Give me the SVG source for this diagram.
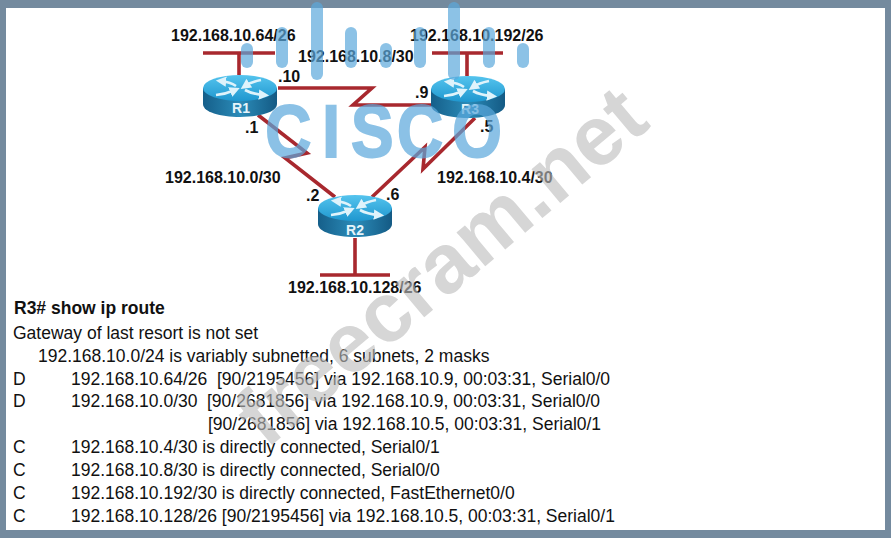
<svg xmlns="http://www.w3.org/2000/svg" width="891" height="538" viewBox="0 0 891 538">
<defs>
<linearGradient id="top" x1="0" y1="0" x2="0" y2="1"><stop offset="0" stop-color="#55c4ee"/><stop offset="1" stop-color="#1f97cf"/></linearGradient>
<linearGradient id="side" x1="0" y1="0" x2="1" y2="0"><stop offset="0" stop-color="#155f8a"/><stop offset="0.5" stop-color="#2b8bb8"/><stop offset="1" stop-color="#145a84"/></linearGradient>
<marker id="h" markerWidth="4" markerHeight="4" refX="2" refY="2" orient="auto"><path d="M0 0L4 2L0 4Z" fill="#dff3fb"/></marker>
<g id="router">
<path d="M-37 -8V8C-37 16 -20 21 0 21S37 16 37 8V-8Z" fill="url(#side)"/>
<ellipse cx="0" cy="-8" rx="37" ry="13" fill="url(#top)"/>
<path class="ar" d="M-4 -10Q-10 -14 -19 -15"/>
<path class="ar" d="M-24 -1Q-14 -2 -5 -6"/>
<path class="ar" d="M5 -6Q12 -2 24 -1"/>
<path class="ar" d="M21 -16Q11 -14 5 -10"/>
</g>
</defs>
<style>
text{font-family:"Liberation Sans",Arial,sans-serif;fill:#111}
.ar{fill:none;stroke:#dff3fb;stroke-width:2.6;marker-end:url(#h)}
.b{font-weight:bold;font-size:16px}
.r{font-size:17.5px}
.n{font-weight:bold;font-size:14px;fill:#e6f4fa;text-anchor:middle}
.l{fill:none;stroke:#a8282e;stroke-width:3.6}
.bar{fill:#5ba8dc;opacity:.7}
</style>
<rect width="891" height="538" fill="#748a9e"/>
<rect x="6" y="8" width="879" height="522" fill="#fff"/>
<g id="connectors">
<path class="l" d="M203 53H275M239 53V75"/>
<path class="l" d="M432 53H503M467 53V76"/>
<path class="l" d="M278 88H372L353 105H432"/>
<path class="l" d="M258 115L307 153L285 158L335 197"/>
<path class="l" d="M475 118L423 169L425 147L372 197"/>
<path class="l" d="M355 238V275M320 275H390"/>
</g>
<g id="R1"><use href="#router" x="240" y="96"/><text class="n" x="241" y="113">R1</text></g>
<g id="R3"><use href="#router" x="468" y="97"/><text class="n" x="470" y="114">R3</text></g>
<g id="R2"><use href="#router" x="355" y="216"/><text class="n" x="355" y="235">R2</text></g>
<g id="labels">
<text class="b" x="171" y="41">192.168.10.64/26</text>
<text class="b" x="298" y="62">192.168.10.8/30</text>
<text class="b" x="410" y="41">192.168.10.192/26</text>
<text class="b" x="278" y="82">.10</text>
<text class="b" x="415" y="98">.9</text>
<text class="b" x="245" y="133">.1</text>
<text class="b" x="480" y="132">.5</text>
<text class="b" x="165" y="183">192.168.10.0/30</text>
<text class="b" x="437" y="183">192.168.10.4/30</text>
<text class="b" x="306" y="201">.2</text>
<text class="b" x="386" y="200">.6</text>
<text class="b" x="288" y="293">192.168.10.128/26</text>
</g>
<g id="routes">
<text class="r" x="14" y="314" style="font-weight:bold">R3# show ip route</text>
<text class="r" x="13" y="339">Gateway of last resort is not set</text>
<text class="r" x="38" y="362">192.168.10.0/24 is variably subnetted, 6 subnets, 2 masks</text>
<text class="r" x="13" y="385">D</text><text class="r" x="71" y="385">192.168.10.64/26</text><text class="r" x="217" y="385">[90/2195456] via 192.168.10.9, 00:03:31, Serial0/0</text>
<text class="r" x="13" y="407">D</text><text class="r" x="71" y="407">192.168.10.0/30</text><text class="r" x="207" y="407">[90/2681856] via 192.168.10.9, 00:03:31, Serial0/0</text>
<text class="r" x="208" y="430">[90/2681856] via 192.168.10.5, 00:03:31, Serial0/1</text>
<text class="r" x="13" y="453">C</text><text class="r" x="71" y="453">192.168.10.4/30 is directly connected, Serial0/1</text>
<text class="r" x="13" y="476">C</text><text class="r" x="71" y="476">192.168.10.8/30 is directly connected, Serial0/0</text>
<text class="r" x="13" y="499">C</text><text class="r" x="71" y="499">192.168.10.192/30 is directly connected, FastEthernet0/0</text>
<text class="r" x="13" y="522">C</text><text class="r" x="71" y="522">192.168.10.128/26 [90/2195456] via 192.168.10.5, 00:03:31, Serial0/1</text>
</g>
<g id="watermark">
<text transform="translate(266 450) rotate(-40)" style="font-weight:bold;font-size:84px;fill:#bdbdbd;opacity:.62">freecram.net</text>
<rect class="bar" x="241" y="43" width="12" height="25" rx="6"/>
<rect class="bar" x="276" y="27" width="12" height="41" rx="6"/>
<rect class="bar" x="311" y="2" width="12" height="78" rx="6"/>
<rect class="bar" x="345" y="27" width="12" height="41" rx="6"/>
<rect class="bar" x="380" y="43" width="12" height="25" rx="6"/>
<rect class="bar" x="414" y="27" width="12" height="41" rx="6"/>
<rect class="bar" x="448" y="2" width="12" height="78" rx="6"/>
<rect class="bar" x="483" y="27" width="12" height="41" rx="6"/>
<rect class="bar" x="517" y="43" width="12" height="25" rx="6"/>
<text transform="translate(0 157) scale(.85 1)" x="312 379 413 467 532" style="font-weight:bold;font-size:75px;fill:#5ba8dc;stroke:#5ba8dc;stroke-width:2;opacity:.7">CISCO</text>
</g>
</svg>
